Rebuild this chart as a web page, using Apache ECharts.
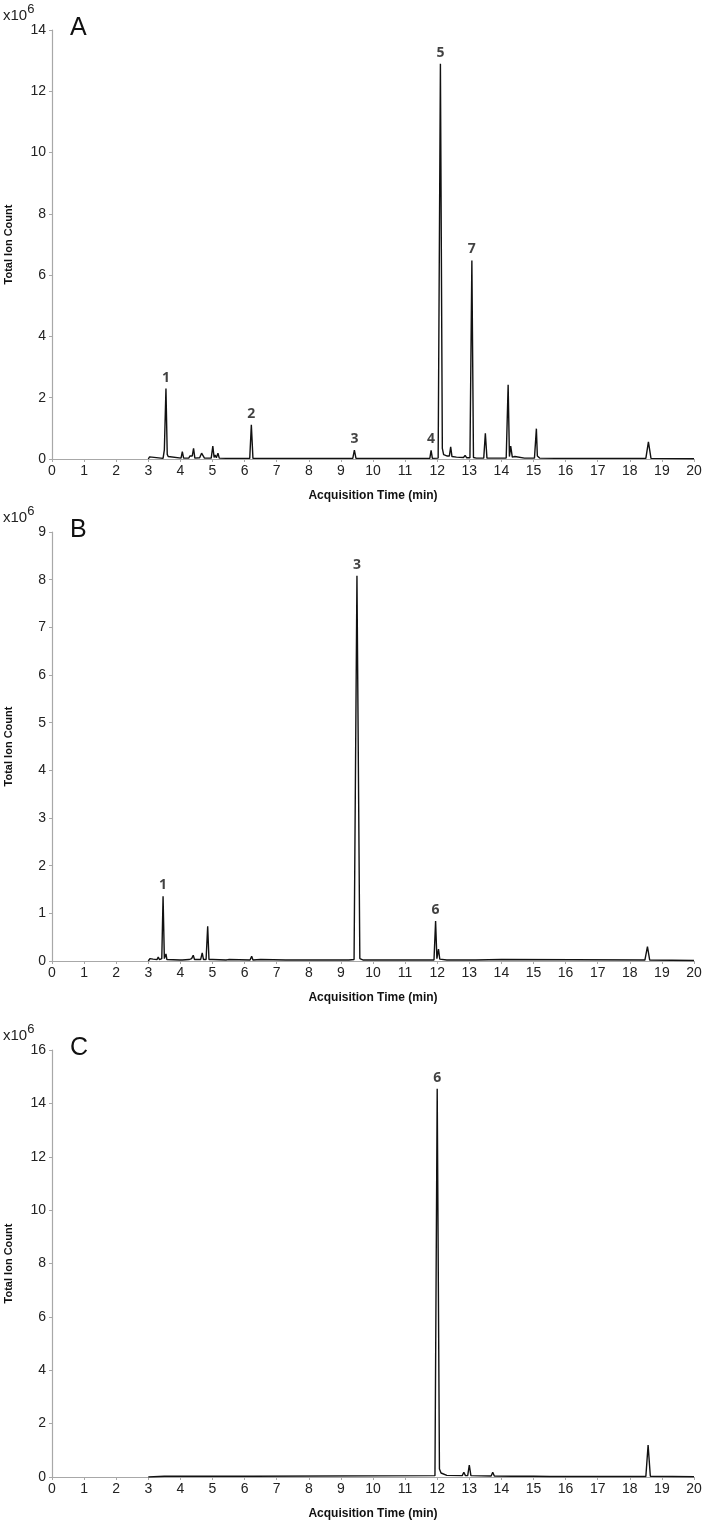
<!DOCTYPE html>
<html>
<head>
<meta charset="utf-8">
<script src="https://cdn.jsdelivr.net/npm/echarts@6/dist/echarts.min.js"></script>
<style>
html, body { margin: 0; padding: 0; background: #fff; }
#chart { width: 708px; height: 1525px; }
</style>
</head>
<body>
<div id="chart"></div>
<script>
// chromatogram traces, [time (min), total ion count x10^6]
var traceA = [
	[3.0, 0], [3.04, 0.07], [3.08, 0.02], [3.46, 0.02], [3.5, 0.3], [3.55, 2.3], [3.59, 0.15], [3.62, 0.08], [3.66, 0.03],
	[4.02, 0.03], [4.06, 0.24], [4.1, 0.03], [4.26, 0.03], [4.3, 0.1], [4.34, 0.04], [4.37, 0.1], [4.41, 0.35], [4.45, 0.03],
	[4.6, 0.04], [4.66, 0.19], [4.7, 0.17], [4.75, 0.03], [4.96, 0.03], [5.01, 0.42], [5.05, 0.05], [5.08, 0.13], [5.12, 0.04],
	[5.15, 0.05], [5.17, 0.19], [5.21, 0.03], [5.42, 0.02], [5.46, 0.06], [5.5, 0.02], [6.16, 0.02], [6.21, 1.12], [6.26, 0.02],
	[6.48, 0.02], [6.52, 0.04], [6.56, 0.02], [7.22, 0.02], [7.27, 0.05], [7.32, 0.02], [8.01, 0.02], [8.05, 0.08], [8.09, 0.02],
	[8.27, 0.02], [8.31, 0.04], [8.35, 0.02], [9.37, 0.02], [9.42, 0.29], [9.47, 0.02], [10.07, 0.02], [10.11, 0.03], [10.15, 0.02],
	[10.47, 0.02], [10.51, 0.04], [10.55, 0.02], [10.78, 0.02], [10.82, 0.05], [10.86, 0.02], [11.02, 0.02], [11.06, 0.06], [11.1, 0.02],
	[11.77, 0.02], [11.81, 0.28], [11.85, 0.02], [12.03, 0.03], [12.1, 12.9], [12.16, 0.35], [12.2, 0.14], [12.3, 0.1],
	[12.38, 0.1], [12.42, 0.4], [12.46, 0.08], [12.6, 0.06], [12.82, 0.05], [12.87, 0.12], [12.92, 0.04], [13.02, 0.04],
	[13.08, 6.48], [13.13, 0.05], [13.22, 0.03], [13.26, 0.05], [13.3, 0.03], [13.45, 0.03], [13.5, 0.84], [13.55, 0.03],
	[13.67, 0.03], [13.71, 0.06], [13.75, 0.03], [13.92, 0.03], [13.96, 0.05], [14.0, 0.03], [14.15, 0.03], [14.21, 2.42],
	[14.25, 0.08], [14.29, 0.42], [14.34, 0.06], [14.38, 0.04], [14.42, 0.08], [14.46, 0.03], [14.72, 0.03], [14.76, 0.05],
	[14.8, 0.03], [15.03, 0.03], [15.09, 0.99], [15.12, 0.1], [15.15, 0.15], [15.19, 0.03], [15.68, 0.02], [15.72, 0.05],
	[15.76, 0.02], [15.98, 0.02], [16.02, 0.04], [16.06, 0.02], [16.3, 0.02], [16.34, 0.05], [16.38, 0.02], [17.5, 0.02],
	[18.5, 0.02], [18.58, 0.56], [18.66, 0.02], [20.0, 0.01]
];
var traceB = [
	[3.0, 0], [3.05, 0.05], [3.1, 0.03], [3.15, 0.04], [3.2, 0.02], [3.27, 0.03], [3.31, 0.08], [3.35, 0.03], [3.42, 0.05],
	[3.46, 1.36], [3.5, 0.05], [3.55, 0.15], [3.58, 0.03], [3.98, 0.02], [4.02, 0.04], [4.06, 0.02], [4.27, 0.03], [4.31, 0.07],
	[4.35, 0.05], [4.4, 0.12], [4.44, 0.03], [4.63, 0.03], [4.68, 0.17], [4.72, 0.03], [4.8, 0.03], [4.85, 0.73], [4.89, 0.03],
	[5.0, 0.03], [5.04, 0.02], [5.42, 0.02], [5.46, 0.06], [5.5, 0.03], [6.17, 0.02], [6.22, 0.1], [6.26, 0.02], [6.5, 0.03],
	[7.28, 0.02], [7.3, 0.04], [7.34, 0.02], [9.15, 0.02], [9.2, 0.04], [9.25, 0.02], [9.41, 0.03], [9.5, 8.08], [9.59, 0.05],
	[9.7, 0.02], [11.7, 0.02], [11.75, 0.04], [11.8, 0.02], [11.9, 0.02], [11.95, 0.84], [11.99, 0.05], [12.04, 0.25],
	[12.08, 0.04], [12.3, 0.02], [13.2, 0.02], [14.0, 0.03], [18.47, 0.02], [18.55, 0.3], [18.62, 0.02], [20.0, 0.01]
];
var traceC = [
	[3.0, 0], [3.05, 0.05], [3.5, 0.03], [3.53, 0.08], [3.57, 0.03], [4.3, 0.03], [4.33, 0.08], [4.37, 0.03], [5.5, 0.03],
	[5.53, 0.06], [5.57, 0.03], [6.2, 0.03], [6.23, 0.06], [6.27, 0.03], [11.93, 0.05], [12.0, 14.55], [12.07, 0.3],
	[12.12, 0.15], [12.3, 0.06], [12.78, 0.05], [12.83, 0.18], [12.88, 0.05], [12.95, 0.05], [13.0, 0.45], [13.05, 0.05],
	[13.68, 0.04], [13.73, 0.18], [13.78, 0.04], [14.35, 0.03], [14.4, 0.06], [14.45, 0.03], [14.9, 0.03], [14.95, 0.07],
	[15.0, 0.03], [15.5, 0.02], [15.55, 0.04], [15.6, 0.02], [18.5, 0.02], [18.57, 1.2], [18.64, 0.03], [20.0, 0.01]
];
// numbered peaks: [time, height, label]
var peaksA = [[3.55, 2.3, '1'], [6.21, 1.12, '2'], [9.42, 0.29, '3'], [11.81, 0.28, '4'], [12.1, 12.9, '5'], [13.08, 6.48, '7']];
var peaksB = [[3.46, 1.36, '1'], [9.5, 8.08, '3'], [11.95, 0.84, '6']];
var peaksC = [[12.0, 14.55, '6']];
// y axis ranges per panel
var yMax = [14, 9, 16];
var yStep = [2, 1, 2];
var panelNames = ['A', 'B', 'C'];

var font = 'Liberation Sans, Arial, sans-serif';
var gridTops = [30, 532, 1050];
var gridHeights = [429, 429, 427];

var chart = echarts.init(document.getElementById('chart'));

var grids = [], xAxes = [], yAxes = [], series = [], graphics = [];
var traces = [traceA, traceB, traceC];
var peaks = [peaksA, peaksB, peaksC];

for (var i = 0; i < 3; i++) {
	grids.push({ left: 52, right: 14, top: gridTops[i], height: gridHeights[i], containLabel: false, outerBoundsMode: 'none' });
	xAxes.push({
		gridIndex: i, type: 'value', min: 0, max: 20, interval: 1,
		name: 'Acquisition Time (min)', nameLocation: 'middle', nameGap: 31,
		nameTextStyle: { fontFamily: font, fontWeight: 'bold', fontSize: 12, color: '#111' },
		axisLine: { lineStyle: { color: '#a8a8a8', width: 1.2 } },
		axisTick: { show: true, length: 3, lineStyle: { color: '#a8a8a8' } },
		axisLabel: { fontFamily: font, fontSize: 14, color: '#222', margin: 5 },
		splitLine: { show: false }
	});
	yAxes.push({
		gridIndex: i, type: 'value', min: 0, max: yMax[i], interval: yStep[i],
		name: 'Total Ion Count', nameLocation: 'middle', nameRotate: 90, nameGap: 38,
		nameTextStyle: { fontFamily: font, fontWeight: 'bold', fontSize: 11, color: '#111' },
		axisLine: { show: true, lineStyle: { color: '#a8a8a8', width: 1.2 } },
		axisTick: { show: true, length: 3, lineStyle: { color: '#a8a8a8' } },
		axisLabel: { fontFamily: font, fontSize: 14, color: '#222', margin: 6 },
		splitLine: { show: false }
	});
	series.push({
		type: 'line', xAxisIndex: i, yAxisIndex: i, data: traces[i],
		symbol: 'none', lineStyle: { color: '#111', width: 1.4 }, z: 3
	});
	series.push({
		type: 'scatter', xAxisIndex: i, yAxisIndex: i, data: peaks[i],
		symbolSize: 0, silent: true,
		label: {
			show: true, position: 'top', distance: 4,
			formatter: function(p) { return p.data[2]; },
			fontFamily: 'Open Sans, sans-serif', fontWeight: 'bold', fontSize: 14, color: '#111'
		}
	});
	graphics.push({
		type: 'text', left: 3, top: gridTops[i] - 27,
		style: {
			text: 'x10{s|6}', fontFamily: font, fontSize: 15, fill: '#222',
			rich: { s: { fontFamily: font, fontSize: 13, verticalAlign: 'top', padding: [0, 0, 12, 0] } }
		}
	});
	graphics.push({
		type: 'text', left: 70, top: gridTops[i] - 14,
		style: { text: panelNames[i], fontFamily: font, fontSize: 25, fill: '#111' }
	});
}

chart.setOption({
	animation: false,
	backgroundColor: '#fff',
	grid: grids,
	xAxis: xAxes,
	yAxis: yAxes,
	series: series,
	graphic: graphics
});
</script>
</body>
</html>
